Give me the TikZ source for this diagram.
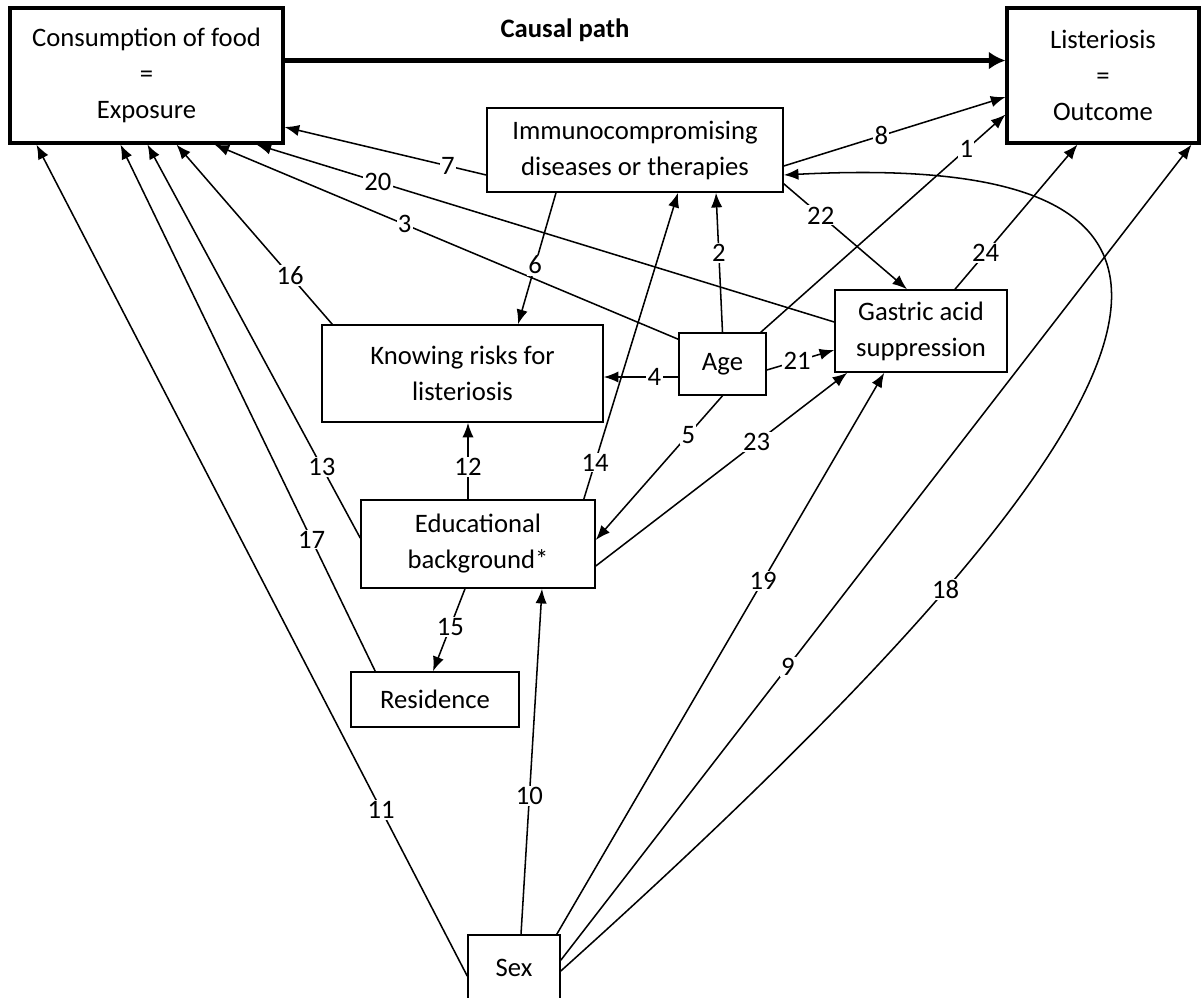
\documentclass[tikz,border=0pt]{standalone}
\usepackage{fontspec}
\setmainfont{Carlito}
\usetikzlibrary{arrows.meta}
\usetikzlibrary{calc}

\begin{document}
\begin{tikzpicture}[x=0.75pt,y=-0.75pt,
  every node/.style={font=\fontsize{20}{27}\selectfont},
  varbox/.style={draw=black, line width=1.15pt, align=center, inner sep=2pt},
  mainbox/.style={varbox, line width=2.3pt},
  arrline/.style={line width=1.15pt, -{Latex[length=11pt,width=8.5pt]}},
  num/.style={fill=white, inner sep=1pt}]
\useasboundingbox (0,0) rectangle (1202,997);

\node[mainbox, minimum width=204.75pt, minimum height=101.25pt] (expo) at (146.5,75.5) {Consumption of food\\=\\Exposure};
\node[mainbox, minimum width=144pt, minimum height=101.25pt] (outc) at (1103,75.5) {Listeriosis\\=\\Outcome};
\node[varbox, minimum width=222pt, minimum height=63pt] (immu) at (635,150) {Immunocompromising\\diseases or therapies};
\node[varbox, minimum width=210.75pt, minimum height=72.75pt] (know) at (462.5,373.5) {Knowing risks for\\listeriosis};
\node[varbox, minimum width=65.25pt, minimum height=46.5pt] (age) at (722.5,364) {Age};
\node[varbox, minimum width=129pt, minimum height=61.5pt] (gast) at (921,331) {Gastric acid\\suppression};
\node[varbox, minimum width=175.5pt, minimum height=66pt] (educ) at (478,544) {Educational\\background*};
\node[varbox, minimum width=126pt, minimum height=41.25pt] (resi) at (435,699.5) {Residence};
\node[varbox, minimum width=69pt, minimum height=49.5pt] (sex) at (514,968) {Sex};

\draw[line width=3.4pt, -{Latex[length=12.5pt,width=13.5pt]}] ($(expo.east)+(0,-15)$) -- ($(outc.west)+(0,-15)$);
\node[font=\fontsize{20}{27}\selectfont\bfseries] (cpath) at (565,30) {Causal path};

\draw[arrline] ($(age.north east)+(-6,0)$) -- node[num,pos=0.84] {1} ($(outc.south west)+(0,-30)$);
\draw[arrline] (age.north) -- node[num,pos=0.57] {2} ($(immu.south)+(81,0)$);
\draw[arrline] ($(age.north west)+(0,7)$) -- node[num,pos=0.59] {3} ($(expo.south west)+(206,0)$);
\draw[arrline] ($(age.west)+(0,13)$) -- node[num,pos=0.32] {4} ($(know.east)+(0,3.5)$);
\draw[arrline] (age.south) -- node[num,pos=0.27] {5} ($(educ.east)+(0,-4)$);
\draw[arrline] ($(immu.south)+(-79,0)$) -- node[num,pos=0.55] {6} ($(know.north)+(55.5,0)$);
\draw[arrline] ($(immu.west)+(0,25)$) -- node[num,pos=0.19] {7} ($(expo.east)+(0,51.5)$);
\draw[arrline] ($(immu.east)+(0,16)$) -- node[num,pos=0.44] {8} ($(outc.west)+(0,21.5)$);
\draw[arrline] ($(sex.north east)+(0,26)$) -- node[num,pos=0.36] {9} ($(outc.south east)+(-9,0)$);
\draw[arrline] ($(sex.north)+(7,0)$) -- node[num,pos=0.4] {10} ($(educ.south)+(64,0)$);
\draw[arrline] ($(sex.west)+(0,8)$) -- node[num,pos=0.2] {11} ($(expo.south west)+(28,0)$);
\draw[arrline] ($(educ.north)+(-10,0)$) -- node[num,pos=0.42] {12} ($(know.south)+(5.5,0)$);
\draw[arrline] ($(educ.west)+(0,-6)$) -- node[num,pos=0.18] {13} ($(expo.south west)+(139,0)$);
\draw[arrline] ($(educ.north east)+(-12,0)$) -- node[num,pos=0.12] {14} ($(immu.south)+(43,0)$);
\draw[arrline] ($(educ.south)+(-13,0)$) -- node[num,pos=0.46] {15} ($(resi.north)+(-2,0)$);
\draw[arrline] ($(know.north west)+(11,0)$) -- node[num,pos=0.27] {16} ($(expo.south west)+(168,0)$);
\draw[arrline] ($(resi.north west)+(25,0)$) -- node[num,pos=0.25] {17} ($(expo.south west)+(112,0)$);
\draw[arrline] ($(sex.east)+(0,3)$) .. controls (1230,370) and (1265,150) .. ($(immu.east)+(0,25)$) node[num,pos=0.25] {18};
\draw[arrline] ($(sex.north east)+(-4,0)$) -- node[num,pos=0.63] {19} ($(gast.south west)+(50,0)$);
\draw[arrline] ($(gast.west)+(0,-9)$) -- node[num,pos=0.79] {20} ($(expo.south west)+(248,0)$);
\draw[arrline] ($(age.east)+(0,6)$) -- node[num,pos=0.45] {21} ($(gast.west)+(0,19)$);
\draw[arrline] ($(immu.south east)+(0,-9)$) -- node[num,pos=0.3] {22} ($(gast.north)+(-14,0)$);
\draw[arrline] ($(educ.east)+(0,22)$) -- node[num,pos=0.64] {23} ($(gast.south west)+(13,0)$);
\draw[arrline] ($(gast.north)+(34,0)$) -- node[num,pos=0.25] {24} ($(outc.south)+(-25.5,0)$);

\end{tikzpicture}
\end{document}
